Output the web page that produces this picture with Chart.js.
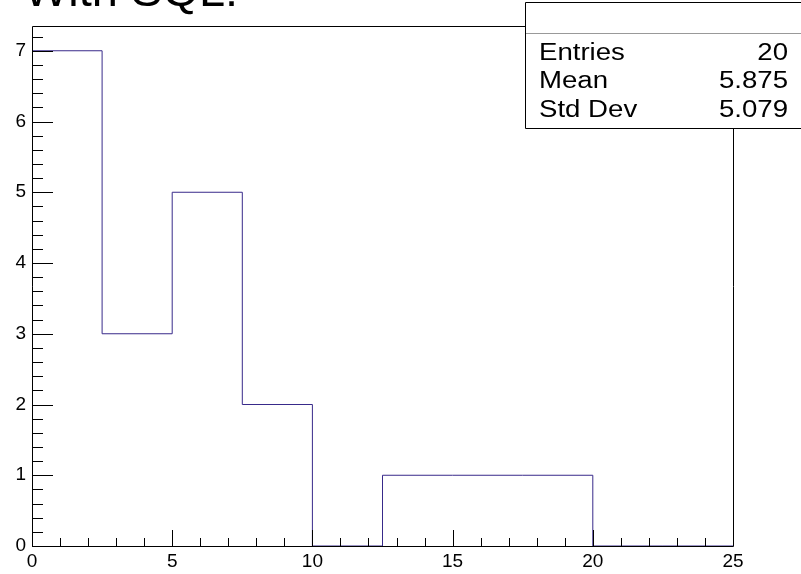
<!DOCTYPE html>
<html>
<head>
<meta charset="utf-8">
<script src="https://cdn.jsdelivr.net/npm/chart.js@4.4.1/dist/chart.umd.min.js"></script>
<style>
  body { margin: 0; background: #fff; }
  #hist { display: block; }
</style>
</head>
<body>
<canvas id="hist" width="801" height="574"></canvas>
<script>
// histogram bins (lower edges + last upper edge) and counts
const binEdges = [0, 2.5, 5, 7.5, 10, 12.5, 15, 17.5, 20, 22.5, 25];
const counts = [7, 3, 5, 2, 0, 1, 1, 1, 0, 0];
const statLabels = ["Entries", "Mean", "Std Dev"];
const statValues = ["20", "5.875", "5.079"];
const titleText = "With SQL:";

const lineColor = "#382a8a";
const font = "'Liberation Sans', Arial, sans-serif";

// step outline points: start at 0, each edge holds its bin value
const points = [{ x: binEdges[0], y: 0 }].concat(
  binEdges.map((e, i) => ({ x: e, y: i < counts.length ? counts[i] : 0 }))
);

// frame, inside ticks, stats box and title
const rootStyle = {
  id: "rootStyle",
  afterDatasetsDraw(chart) {
    const ctx = chart.ctx;
    const a = chart.chartArea;
    const xs = chart.scales.x, ys = chart.scales.y;
    ctx.save();
    ctx.strokeStyle = "#000";
    ctx.lineWidth = 1;
    ctx.beginPath();
    ctx.rect(Math.round(a.left) + 0.5, Math.round(a.top) + 0.5,
      Math.round(a.right - a.left), Math.round(a.bottom - a.top));
    ctx.stroke();

    // x ticks: major every 5, minor every 1
    ctx.beginPath();
    for (let v = xs.min; v <= xs.max + 1e-9; v += 1) {
      const px = Math.round(xs.getPixelForValue(v)) + 0.5;
      const len = (v % 5 === 0) ? 16 : 8;
      ctx.moveTo(px, a.bottom);
      ctx.lineTo(px, a.bottom - len);
    }
    // y ticks: major every 1, minor every 0.2
    for (let k = 0; k * 0.2 <= ys.max + 1e-9; k++) {
      const v = k * 0.2;
      const py = Math.round(ys.getPixelForValue(v)) + 0.5;
      const len = (k % 5 === 0) ? 21 : 11;
      ctx.moveTo(a.left, py);
      ctx.lineTo(a.left + len, py);
    }
    ctx.stroke();

    // stats box
    ctx.fillStyle = "#fff";
    ctx.fillRect(525, 2, 290, 127);
    ctx.beginPath();
    ctx.rect(525.5, 2.5, 290, 126);
    ctx.stroke();
    ctx.strokeStyle = "#999";
    ctx.beginPath();
    ctx.moveTo(526, 33.5);
    ctx.lineTo(801, 33.5);
    ctx.stroke();
    ctx.fillStyle = "#000";
    ctx.font = "23px " + font;
    ctx.textBaseline = "alphabetic";
    statLabels.forEach((s, i) => {
      const y = 59.5 + i * 28.6;
      ctx.save();
      ctx.translate(539, y);
      ctx.scale(1.2, 1);
      ctx.textAlign = "left";
      ctx.fillText(s, 0, 0);
      ctx.restore();
      ctx.save();
      ctx.translate(788, y);
      ctx.scale(1.2, 1);
      ctx.textAlign = "right";
      ctx.fillText(statValues[i], 0, 0);
      ctx.restore();
    });

    // title, cut off by the top edge
    ctx.font = "47px " + font;
    ctx.textAlign = "left";
    ctx.textBaseline = "alphabetic";
    ctx.fillText(titleText, 24, 6);
    ctx.restore();
  }
};

new Chart(document.getElementById("hist"), {
  type: "line",
  data: {
    datasets: [{
      data: points,
      stepped: "before",
      borderColor: lineColor,
      borderWidth: 1,
      pointRadius: 0,
      fill: false,
      tension: 0
    }]
  },
  options: {
    responsive: false,
    animation: false,
    layout: { padding: { top: 26, right: 68, left: 0, bottom: 0 } },
    plugins: { legend: { display: false }, tooltip: { enabled: false } },
    scales: {
      x: {
        type: "linear",
        min: 0,
        max: 25,
        afterFit: (s) => { s.height = 28; },
        grid: { display: false, drawTicks: false },
        border: { display: false },
        ticks: { stepSize: 5, padding: 4, color: "#000", font: { family: font, size: 19 }, maxRotation: 0 }
      },
      y: {
        min: 0,
        max: 7.35,
        afterFit: (s) => { s.width = 32; },
        grid: { display: false, drawTicks: false },
        border: { display: false },
        ticks: { stepSize: 1, includeBounds: false, padding: 6, color: "#000", font: { family: font, size: 19 } }
      }
    }
  },
  plugins: [rootStyle]
});
</script>
</body>
</html>
